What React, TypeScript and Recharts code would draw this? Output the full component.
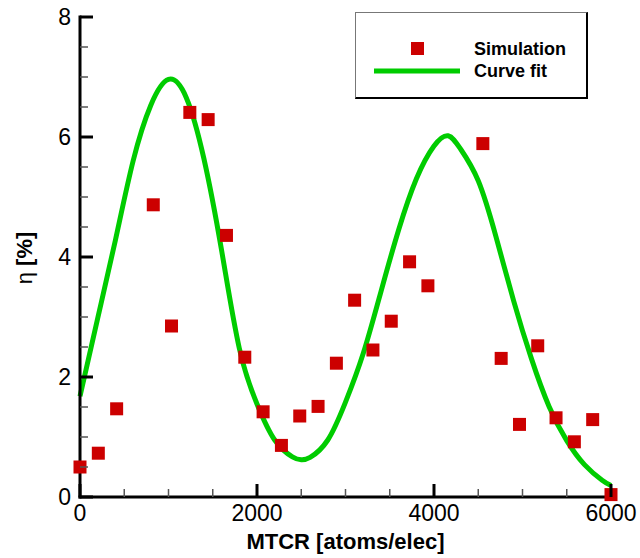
import { ComposedChart, Line, Scatter, XAxis, YAxis, Legend, Label } from "recharts";

// simulation points (MTCR, efficiency %)
const simX = [0, 207, 414, 828, 1034, 1241, 1448, 1655, 1862, 2069, 2276, 2483, 2690, 2897, 3103, 3310, 3517, 3724, 3931, 4552, 4759, 4966, 5172, 5379, 5586, 5793, 6000];
const simY = [0.5, 0.73, 1.47, 4.87, 2.85, 6.41, 6.29, 4.36, 2.33, 1.42, 0.86, 1.35, 1.51, 2.23, 3.28, 2.45, 2.93, 3.92, 3.52, 5.89, 2.31, 1.21, 2.52, 1.32, 0.92, 1.29, 0.04];

// curve fit
const fitX = [0, 200, 400, 600, 800, 1000, 1200, 1400, 1600, 1800, 2000, 2200, 2400, 2500, 2600, 2800, 3000, 3200, 3400, 3600, 3800, 4000, 4160, 4300, 4500, 4700, 4900, 5100, 5300, 5500, 5700, 5900, 6000];
const fitY = [1.68, 2.98, 4.28, 5.6, 6.53, 6.96, 6.66, 5.64, 4.11, 2.48, 1.55, 0.95, 0.67, 0.62, 0.66, 0.95, 1.58, 2.39, 3.42, 4.45, 5.3, 5.85, 6.02, 5.8, 5.27, 4.34, 3.27, 2.31, 1.51, 0.94, 0.54, 0.28, 0.19];

const xTicks = [0, 500, 1000, 1500, 2000, 2500, 3000, 3500, 4000, 4500, 5000, 5500, 6000];
const yTicks = [0, 0.5, 1, 1.5, 2, 2.5, 3, 3.5, 4, 4.5, 5, 5.5, 6, 6.5, 7, 7.5, 8];

const simData = simX.map((x, i) => ({ x, y: simY[i] }));
const fitData = fitX.map((x, i) => ({ x, y: fitY[i] }));

const RED = "#CC0000";
const GREEN = "#00CC00";
const FONT = "'Liberation Sans', Arial, sans-serif";

const XTick = (props: any) => {
  const { x, y, payload } = props;
  const major = payload.value % 2000 === 0;
  return (
    <g>
      <line x1={x} x2={x} y1={y} y2={y - (major ? 13 : 8)} stroke={major ? "#000" : "#555"} strokeWidth={major ? 3 : 1.5} />
      {major && (
        <text x={x} y={y + 24} textAnchor="middle" fontSize={23} fontFamily={FONT} fill="#000">
          {payload.value}
        </text>
      )}
    </g>
  );
};

const YTick = (props: any) => {
  const { x, y, payload } = props;
  const major = payload.value % 2 === 0;
  return (
    <g>
      <line x1={x} x2={x + (major ? 13 : 8)} y1={y} y2={y} stroke={major ? "#000" : "#555"} strokeWidth={major ? 3 : 1.5} />
      {major && (
        <text x={x - 9} y={y + 8} textAnchor="end" fontSize={23} fontFamily={FONT} fill="#000">
          {payload.value}
        </text>
      )}
    </g>
  );
};

const Square = (props: any) => {
  const { cx, cy } = props;
  return <rect x={cx - 6.5} y={cy - 6.5} width={13} height={13} fill={RED} />;
};

const LegendBox = () => (
  <div
    style={{
      width: 233,
      height: 87,
      boxSizing: "border-box",
      background: "#fff",
      borderTop: "1px solid #777",
      borderLeft: "1px solid #777",
      borderRight: "2px solid #000",
      borderBottom: "2px solid #000",
    }}
  >
    <svg width={230} height={84} style={{ display: "block" }}>
      <rect x={55} y={29} width={13} height={13} fill={RED} />
      <line x1={18} x2={104} y1={58} y2={58} stroke={GREEN} strokeWidth={5} />
      <text x={118} y={42} fontSize={18} fontWeight="bold" fontFamily={FONT} fill="#000">
        Simulation
      </text>
      <text x={118} y={64} fontSize={18} fontWeight="bold" fontFamily={FONT} fill="#000">
        Curve fit
      </text>
    </svg>
  </div>
);

const YTitle = () => {
  const cx = 32;
  const cy = 258;
  return (
    <text
      x={cx}
      y={cy}
      transform={`rotate(-90 ${cx} ${cy})`}
      textAnchor="middle"
      fontSize={22}
      fontFamily={FONT}
      fill="#000"
    >
      <tspan>η</tspan>
      <tspan fontWeight="bold"> [%]</tspan>
    </text>
  );
};

const XTitle = () => (
  <text x={345.5} y={549} textAnchor="middle" fontSize={22} fontWeight="bold" fontFamily={FONT} fill="#000">
    MTCR [atoms/elec]
  </text>
);

export default function App() {
  return (
    <div style={{ position: "absolute", top: 0, left: 0, background: "#fff" }}>
      <ComposedChart width={640} height={558} margin={{ top: 17, right: 29, bottom: 60, left: 79 }}>
        <XAxis
          type="number"
          dataKey="x"
          domain={[0, 6000]}
          ticks={xTicks}
          interval={0}
          height={1}
          tickSize={0}
          tickMargin={0}
          tickLine={false}
          tick={<XTick />}
          axisLine={{ stroke: "#000", strokeWidth: 3, strokeLinecap: "square" }}
        >
          <Label content={<XTitle />} />
        </XAxis>
        <YAxis
          type="number"
          dataKey="y"
          domain={[0, 8]}
          ticks={yTicks}
          interval={0}
          width={1}
          tickSize={0}
          tickMargin={0}
          tickLine={false}
          tick={<YTick />}
          axisLine={{ stroke: "#000", strokeWidth: 3, strokeLinecap: "square" }}
        >
          <Label content={<YTitle />} />
        </YAxis>
        <Legend
          layout="horizontal"
          verticalAlign="middle"
          align="center"
          content={<LegendBox />}
          wrapperStyle={{ position: "absolute", top: 12, left: 355, width: 233, height: 87 }}
        />
        <Line
          data={fitData}
          dataKey="y"
          type="natural"
          stroke={GREEN}
          strokeWidth={5}
          dot={false}
          activeDot={false}
          isAnimationActive={false}
          name="Curve fit"
        />
        <Scatter data={simData} dataKey="y" fill={RED} shape={<Square />} isAnimationActive={false} name="Simulation" />
      </ComposedChart>
    </div>
  );
}
